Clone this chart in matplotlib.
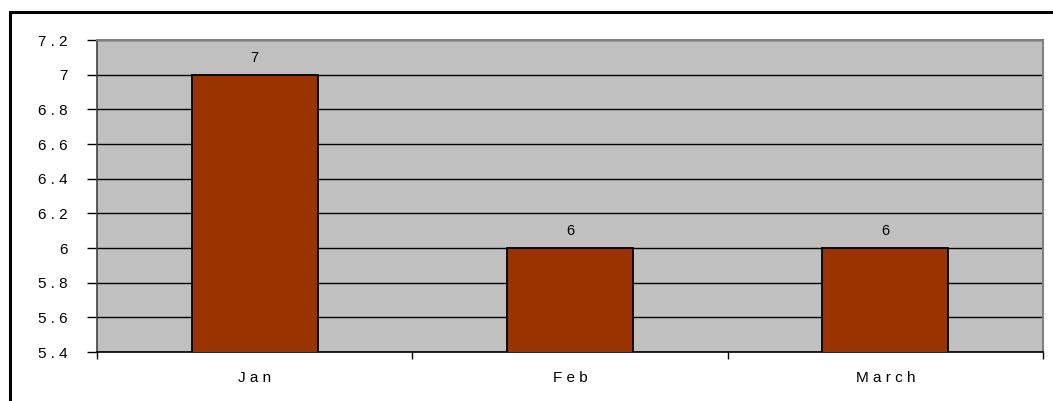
import matplotlib.pyplot as plt
from matplotlib.patches import Rectangle
import numpy as np

# Data
months = ["Jan", "Feb", "March"]
values = [7, 6, 6]
y_ticks = [5.4, 5.6, 5.8, 6.0, 6.2, 6.4, 6.6, 6.8, 7.0, 7.2]


def spaced(s):
    return " ".join(s)


def fmt(v):
    s = f"{v:.1f}".rstrip("0").rstrip(".")
    return spaced(s)


plt.rcParams["font.family"] = ["Liberation Sans", "DejaVu Sans"]

fig = plt.figure(figsize=(10.53, 4.01), dpi=100)

# outer frame (clipped on right and bottom as in the original)
fig.patches.append(Rectangle((10 / 1053, -0.1), 1.2, (401 - 12) / 401 + 0.1,
                             transform=fig.transFigure, fill=False,
                             edgecolor="black", linewidth=2.2))

ax = fig.add_axes([97 / 1053, 49 / 401, 946 / 1053, 312 / 401])
ax.set_facecolor("#C0C0C0")

x = np.arange(len(months))
ax.bar(x, values, width=0.4, color="#993300", edgecolor="black",
       linewidth=1.3, zorder=3)

for xi, v in zip(x, values):
    ax.annotate(str(v), (xi, v), xytext=(0, 7), textcoords="offset points",
                ha="center", va="bottom", fontsize=10.5)

ax.set_ylim(5.4, 7.2)
ax.set_xlim(-0.5, 2.5)
ax.set_yticks(y_ticks)
ax.set_yticklabels([fmt(t) for t in y_ticks], fontsize=11)
ax.yaxis.grid(True, color="black", linewidth=1)
ax.set_axisbelow(True)

ax.set_xticks(x)
ax.set_xticklabels([spaced(m) for m in months], fontsize=11)
ax.tick_params(axis="x", length=0, pad=14)
ax.set_xticks([-0.5, 0.5, 1.5, 2.5], minor=True)
ax.tick_params(axis="x", which="minor", length=5, width=1, color="black")
ax.tick_params(axis="y", length=7, width=1, color="black", pad=14)

for side in ["top", "right"]:
    ax.spines[side].set_color("#808080")
    ax.spines[side].set_linewidth(1.5)
ax.spines["left"].set_color("#404040")
ax.spines["bottom"].set_color("black")
for side in ["left", "bottom"]:
    ax.spines[side].set_linewidth(1.2)

fig.savefig("out.png", dpi=100)
